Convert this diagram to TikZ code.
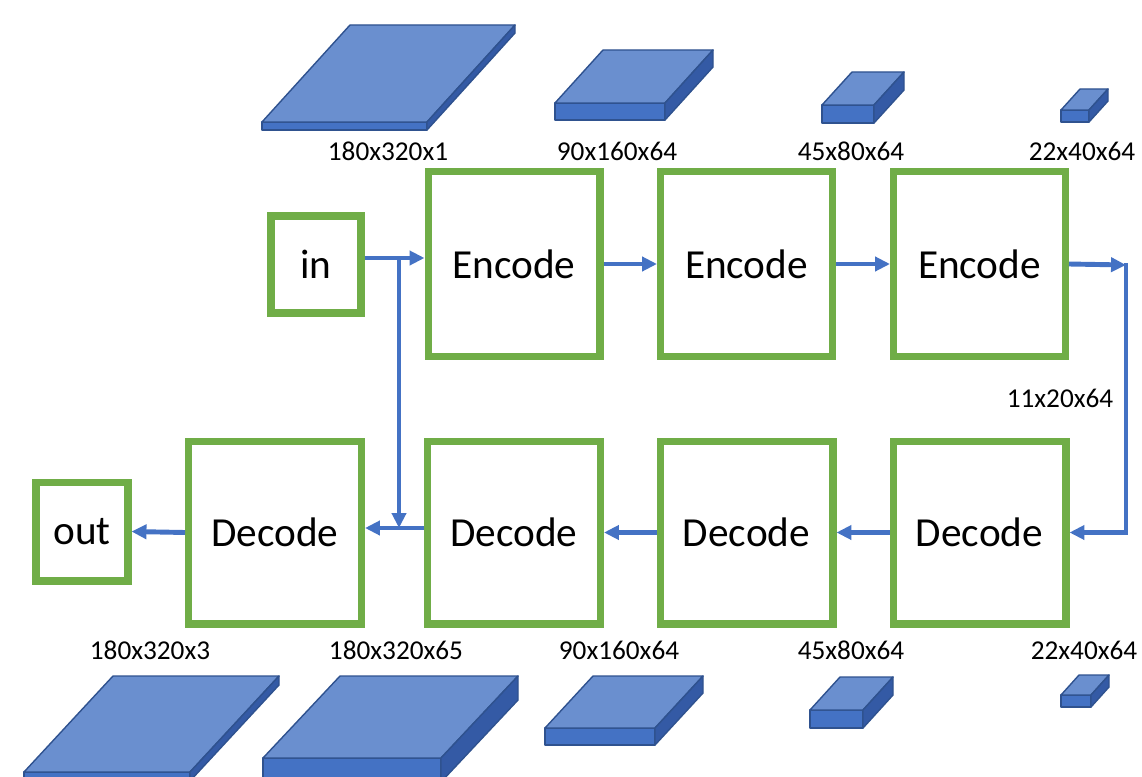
\documentclass[tikz,border=0pt]{standalone}
\usepackage{fontspec}
\setmainfont{Carlito}
\usepackage{tikz}
\usetikzlibrary{arrows.meta}

\definecolor{boxgreen}{RGB}{112,173,71}
\definecolor{flowblue}{RGB}{68,114,196}
\definecolor{slabtop}{RGB}{106,143,207}
\definecolor{slabfront}{RGB}{68,114,196}
\definecolor{slabside}{RGB}{52,90,165}
\definecolor{slabedge}{RGB}{47,82,143}

% tensor slab: front top-left x, y, width, thickness, depth dx, depth dy
\newcommand{\slab}[6]{%
  \filldraw[slabline,fill=slabfront] (#1,#2) rectangle ++(#3,#4);
  \filldraw[slabline,fill=slabtop] (#1,#2) -- ++(#5,-#6) -- ++(#3,0) -- ++(-#5,#6) -- cycle;
  \filldraw[slabline,fill=slabside] (#1+#3,#2) -- ++(#5,-#6) -- ++(0,#4) -- ++(-#5,#6) -- cycle;
}

\begin{document}
\begin{tikzpicture}
            [
            x=0.02cm,y=-0.02cm,
            block/.style={draw=boxgreen,line width=4pt,font={\fontsize{23.5}{28}\selectfont}},
            coder/.style={block,minimum width=3.44cm,minimum height=3.72cm},
            decoder/.style={block,minimum width=3.46cm,minimum height=3.66cm},
            size/.style={font={\fontsize{15.5}{18}\selectfont},inner sep=0pt},
            flow/.style={draw=flowblue,line width=2.8pt,-{Triangle[length=8.5pt,width=8pt]}},
            slabline/.style={draw=slabedge,line width=0.8pt,line join=round},
            ]
            \useasboundingbox (0,0) rectangle (1142,777);
            \clip (0,0) rectangle (1142,777);

            % Encoder slabs
            \slab{262}{122}{165}{8}{88}{97}
            \slab{555}{103}{110}{17}{48}{53}
            \slab{822}{105}{52}{18}{30}{33}
            \slab{1061}{110}{28}{12}{19}{21}

            % Decoder slabs
            \slab{24}{772}{166}{9}{89}{96}
            \slab{263}{758}{178}{24}{77}{82}
            \slab{545}{728}{110}{17}{48}{52}
            \slab{810}{710}{53}{18}{30}{33}
            \slab{1061}{695}{30}{12}{18}{20}

            % Sizes
            \node[size] (s1) at (388,151) {180x320x1};
            \node[size] (s2) at (617,151) {90x160x64};
            \node[size] (s3) at (851,151) {45x80x64};
            \node[size] (s4) at (1082,151) {22x40x64};
            \node[size] (s5) at (1060,398) {11x20x64};
            \node[size] (s6) at (150,650) {180x320x3};
            \node[size] (s7) at (396,650) {180x320x65};
            \node[size] (s8) at (619,650) {90x160x64};
            \node[size] (s9) at (851,650) {45x80x64};
            \node[size] (s10) at (1084,650) {22x40x64};

            % Blocks
            \node[block,minimum width=1.8cm,minimum height=1.94cm] (in) at (316,264.5) {in};
            \node[coder] (enc1) at (514,264) {Encode};
            \node[coder] (enc2) at (746.5,264) {Encode};
            \node[coder] (enc3) at (979.5,264) {Encode};
            \node[decoder] (dec1) at (275,532.5) {Decode};
            \node[decoder] (dec2) at (514,532.5) {Decode};
            \node[decoder] (dec3) at (746.5,532.5) {Decode};
            \node[decoder] (dec4) at (979.5,532.5) {Decode};
            \node[block,minimum width=1.84cm,minimum height=1.98cm] (out) at (82,531.5) {out};

            % Skip connection
            \coordinate (split) at (399,258);
            \coordinate (join) at (399,528);
            \coordinate (turn) at (1126,265);
            \draw[flow] (in.east |- split) -- (enc1.west |- split);
            \draw[flow] (split) -- (join);

            % Forward path
            \draw[flow] (enc1.east) -- (enc2.west);
            \draw[flow] (enc2.east) -- (enc3.west);
            \draw[flow] (enc3.east) -- (turn);
            \draw[flow] ([yshift=0.04cm]turn) |- (dec4.east);
            \draw[flow] (dec4.west) -- (dec3.east);
            \draw[flow] (dec3.west) -- (dec2.east);
            \draw[flow] (dec2.west |- join) -- (dec1.east |- join);
            \draw[flow] (dec1.west) -- (out.east);

        \end{tikzpicture}
\end{document}
